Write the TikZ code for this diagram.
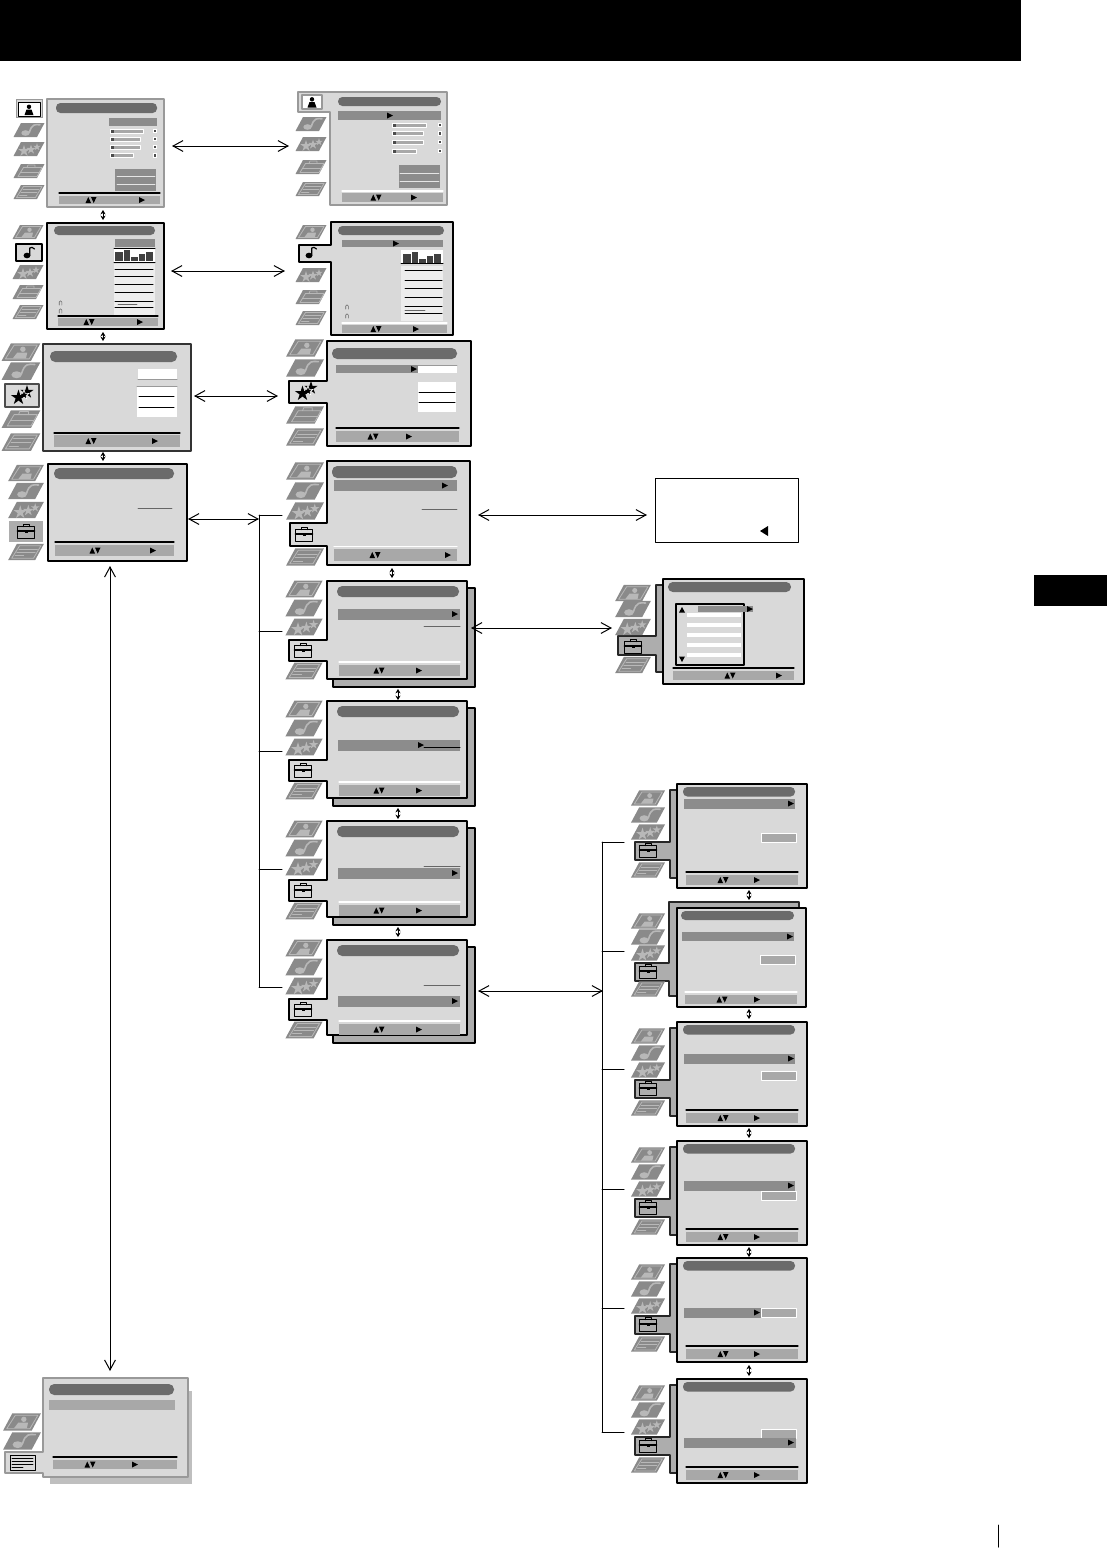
\documentclass[tikz,border=0pt]{standalone}
\usepackage{amssymb}
\usetikzlibrary{arrows.meta,fit}

\definecolor{panelgray}{gray}{.85}
\definecolor{pillgray}{gray}{.42}
\definecolor{headgray}{gray}{.55}
\definecolor{footgray}{gray}{.66}
\definecolor{stripgray}{gray}{.68}
\definecolor{icongray}{gray}{.54}
\definecolor{iconlight}{gray}{.72}

\tikzset{
	screen/.style={draw=black,fill=panelgray,line width=.7pt,inner sep=0pt,outer sep=0pt},
	softscreen/.style={screen,draw=black!40},
	darkscreen/.style={screen,draw=black!80},
	screenname/.style={inner sep=0pt,outer sep=0pt},
	shadowbox/.style={draw=black,fill=stripgray,line width=.6pt},
	stripshape/.style={draw=black!85,fill=stripgray,line width=.6pt},
	iconline/.style={draw=iconlight,line width=.4pt},
	link/.style={<->,line width=.5pt},
	updown/.style={{Stealth[length=2.2pt,width=2.6pt]}-{Stealth[length=2.2pt,width=2.6pt]},line width=.5pt},
	branch/.style={line width=.5pt}
}

% inactive icons, drawn round (0,0)
\newcommand{\iconperson}{
	\draw[iconline] (-5.5,-5.5) -- (13,-5.5) -- (6.5,5.5) -- (-12.5,5.5) -- cycle;
	\fill[iconlight] (1.5,-2.2) circle (2.2);
	\fill[iconlight] (-6.5,5) -- (-3,.5) -- (5,.5) -- (4,5) -- cycle;}
\newcommand{\iconnote}{
	\fill[iconlight] (-3.5,3) circle [x radius=4.2,y radius=2.8];
	\draw[iconlight,line width=.8pt] (.3,2.5) .. controls (3,-6.5) and (6,-5.5) .. (11,-5.2);}
\newcommand{\iconstars}{
	\fill[iconlight,shift={(-5,2)},scale=6] \starpath;
	\fill[iconlight,shift={(2,.5)},scale=5] \starpath;
	\fill[iconlight,shift={(8,-2)},scale=4] \starpath;}
\newcommand{\iconcase}{
	\draw[iconline] (-5.5,-3.5) -- (13,-3.5) -- (8,5.5) -- (-11,5.5) -- cycle;
	\draw[iconline] (-8,1) -- (10.5,1);
	\draw[iconline] (-2,-3.5) -- (-1,-6) -- (6,-6) -- (6,-3.5);}
\newcommand{\icontext}{
	\draw[iconline] (-5.5,-5.5) -- (13,-5.5) -- (6.5,5.5) -- (-12.5,5.5) -- cycle;
	\draw[iconline] (-6,-2.5) -- (10,-2.5);
	\draw[iconline] (-8,.5) -- (8,.5);
	\draw[iconline] (-9.5,3.2) -- (-2,3.2);}
\newcommand{\starpath}{(0,-1) -- (.22,-.3) -- (.95,-.31) -- (.36,.12) -- (.59,.81) -- (0,.38) -- (-.59,.81) -- (-.36,.12) -- (-.95,-.31) -- (-.22,-.3) -- cycle}
\newcommand{\iconoff}[4]{
	\begin{scope}[shift={(#2,#3)},scale=#4]
		\fill[icongray] (-8,-7) -- (15.5,-7) -- (8,7) -- (-15.5,7) -- cycle;
		\csname icon#1\endcsname
	\end{scope}}

% active icons
\newcommand{\activeperson}[2]{
	\begin{scope}[shift={(#1,#2)}]
		\fill (0,-3.2) circle (2.2);
		\fill (-4.5,5) -- (-2.5,-.5) -- (2.5,-.5) -- (4.5,5) -- cycle;
	\end{scope}}
\newcommand{\activenote}[2]{
	\begin{scope}[shift={(#1,#2)}]
		\fill (-3,3.5) circle [x radius=3.5,y radius=2.8];
		\draw[line width=.6pt] (-.2,3) -- (-.2,-4) .. controls (1,-5.5) and (3,-4.5) .. (4.5,-3);
	\end{scope}}
\newcommand{\activestars}[2]{
	\begin{scope}[shift={(#1,#2)}]
		\fill[shift={(5,-4)},scale=7] \starpath;
		\draw[white,line width=.3pt,fill=black,shift={(2,-1)},scale=5.5] \starpath;
		\fill[shift={(-3.5,1.5)},scale=8] \starpath;
	\end{scope}}
\newcommand{\activecase}[2]{
	\begin{scope}[shift={(#1,#2)}]
		\draw[line width=.5pt] (-8.5,-4.5) rectangle (8.5,7);
		\draw[line width=.5pt] (-3,-4.5) -- (-3,-7) -- (3,-7) -- (3,-4.5);
		\draw[line width=.9pt] (-8.5,0) -- (8.5,0);
		\fill (-1.5,-1.5) rectangle (1.5,1.5);
	\end{scope}}

% small marks
\newcommand{\markupdown}[2]{
	\fill (#1-5.5,#2+3) -- (#1-2.7,#2-3) -- (#1,#2+3) -- cycle;
	\fill (#1,#2-3) -- (#1+5.5,#2-3) -- (#1+2.7,#2+3) -- cycle;}
\newcommand{\markgo}[2]{
	\fill (#1-3,#2-3) -- (#1+3,#2) -- (#1-3,#2+3) -- cycle;}

% parts of a screen
\newcommand{\panel}[6][screen]{\node[#1,fit={(#3,#4) (#5,#6)}] (#2) {};}
\newcommand{\tabpanel}[9][screen]{
	\draw[#1] (#3,#4) -- (#5,#4) -- (#5,#6) -- (#3,#6) -- (#3,#9) -- (#7,#9) -- (#7,#8) -- (#3,#8) -- cycle;
	\node[screenname,fit={(#3,#4) (#5,#6)}] (#2) {};}
\newcommand{\pill}[5][2.2pt]{\fill[pillgray,rounded corners=#1] (#2,#3) rectangle (#4,#5);}
\newcommand{\headbar}[4]{\fill[headgray] (#1,#2) rectangle (#3,#4);}
\newcommand{\footer}[8]{
	\draw[#1,line width=.6pt] (#2,#4) -- (#3,#4);
	\fill[footgray] (#2,#5) rectangle (#3,#6);
	\pgfmathsetmacro\midfoot{(#5+#6)/2}
	\markupdown{#7}{\midfoot}
	\markgo{#8}{\midfoot}}
\newcommand{\sliderrow}[4]{
	\draw[white,fill=footgray,line width=.4pt] (#1,#3-2) rectangle (#2,#3+2);
	\fill[black!70] (#1+.5,#3-1.5) rectangle (#1+3.5,#3+1.5);
	\fill[white] (#4-2,#3-2.2) rectangle (#4+2,#3+2.2);
	\fill[black!70] (#4-1.2,#3-1.2) rectangle (#4+1.2,#3+1.2);}
\newcommand{\eqbars}[2]{
	\begin{scope}[shift={(#1,#2)}]
		\foreach \xa/\xb/\ytop in {115/123/252,124/130/250,131/138/257,139/145/254,146/153/252}
			\fill[black!75] (\xa,\ytop) rectangle (\xb,261);
	\end{scope}}
\newcommand{\phones}[2]{
	\draw[black!60,line width=.3pt] (#1-1.3,#2+2) -- (#1-1.3,#2-1) .. controls (#1-1,#2-2.5) and (#1+1,#2-2.5) .. (#1+1.3,#2-1) -- (#1+1.3,#2+2);}

\begin{document}
\begin{tikzpicture}[line cap=round,line join=round,>={Straight Barb[length=5pt,width=5.4pt]},x=0.5pt,y=-0.5pt]
	\useasboundingbox (0,0) rectangle (1107,1559);
	\fill[black] (0,0) rectangle (1021,61);
	\fill[black] (1034,575) rectangle (1107,606);
	\draw[line width=.5pt] (998,1525) -- (998,1547);

	% picture screens
	\foreach \k/\y in {note/130,stars/149,case/171,text/192}{\iconoff{\k}{29}{\y}{1}}
	\fill[black!40] (16,99) rectangle (43,118);
	\fill[panelgray] (17,100) rectangle (42,117);
	\draw[fill=white,line width=.5pt] (18.5,102) rectangle (40,116);
	\activeperson{29}{110}
	\panel[softscreen]{picLeft}{47}{99}{164}{207}
	\pill{56}{103}{157}{113}
	\headbar{109}{118}{157}{126}
	\foreach \xe/\y in {143/131,140/139,140/147,133/155.5}{\sliderrow{110}{\xe}{\y}{155}}
	\headbar{115}{169}{156}{191}
	\foreach \y in {176.5,184}{\draw[white!80!gray,line width=.4pt] (117,\y) -- (155,\y);}
	\footer{black}{59}{160}{193}{196}{204}{91}{142}

	\tabpanel[softscreen]{picRight}{330}{92}{447}{205}{298}{92}{112}
	\foreach \k/\y in {note/124,stars/144,case/167,text/189}{\iconoff{\k}{311}{\y}{1}}
	\draw[black!40,fill=white,line width=.6pt] (302,95) rectangle (322,109);
	\activeperson{312}{102.5}
	\pill{338}{97}{441}{106}
	\headbar{338}{111}{441}{120}
	\markgo{390}{115.5}
	\foreach \xe/\y in {426/125,423/133.5,423/142,416/151}{\sliderrow{392}{\xe}{\y}{440}}
	\headbar{399}{165}{440}{188}
	\foreach \y in {173,181}{\draw[white!80!gray,line width=.4pt] (400,\y) -- (439,\y);}
	\footer{white}{342}{443}{191}{193}{202}{376}{414}

	% sound screens
	\foreach \k/\y in {person/232,stars/272,case/292,text/312}{\iconoff{\k}{28}{\y}{1}}
	\draw[fill=panelgray,line width=.7pt] (16,244) rectangle (42,261);
	\activenote{30}{252}
	\panel{soundLeft}{47}{223}{164}{329}
	\pill{54}{226}{155}{235}
	\headbar{115}{239}{155}{247}
	\fill[white] (114,248) rectangle (155,262);
	\draw[line width=.5pt] (114,248) -- (155,248) (114,262) -- (155,262);
	\eqbars{0}{0}
	\fill[white!93!black] (114,264) rectangle (155,315);
	\foreach \y in {269,276.5,284,292,301,307}{\draw[line width=.5pt] (115,\y) -- (153,\y);}
	\draw[black!60,line width=.3pt] (118,304) -- (137,304);
	\phones{60.5}{303}
	\phones{60.5}{311}
	\footer{black}{58}{158}{316}{318}{326}{89}{140}

	\tabpanel{soundRight}{331}{222}{453}{335}{299}{245}{262}
	\foreach \k/\y in {person/232,stars/275,case/297,text/318}{\iconoff{\k}{311}{\y}{1}}
	\activenote{312}{252}
	\pill{338}{226}{444}{235}
	\headbar{342}{240}{443}{247}
	\markgo{396}{243.5}
	\fill[white] (401,250) rectangle (443,263);
	\draw[line width=.5pt] (401,263.5) -- (443,263.5);
	\eqbars{288}{2}
	\fill[white!93!black] (401,266) rectangle (443,321);
	\foreach \y in {270,280,288,297,306,313}{\draw[line width=.5pt] (405,\y) -- (442,\y);}
	\draw[black!60,line width=.3pt] (405,310) -- (425,310);
	\phones{347}{307}
	\phones{347}{316}
	\footer{white}{342}{447}{323}{325}{333}{376}{416}

	% star screens
	\foreach \k/\y in {person/352,note/371,case/419,text/442}{\iconoff{\k}{21}{\y}{1.25}}
	\draw[black!70,fill=panelgray,line width=.7pt] (5,384) rectangle (39,407);
	\activestars{22}{396}
	\panel[darkscreen]{starsLeft}{43}{344}{191}{451}
	\pill[2.6pt]{50}{351}{177}{362}
	\fill[white] (138,369) rectangle (177,379);
	\draw[black!40,line width=.5pt] (138,379) -- (177,379);
	\fill[white] (137,386) rectangle (177,417);
	\draw[black!40,line width=.5pt] (137,386) -- (177,386);
	\foreach \y in {396,407}{\draw[line width=.5pt] (139,\y) -- (174,\y);}
	\footer{black}{54}{180}{433}{435}{447}{91}{155}

	\tabpanel{starsRight}{327}{341}{471}{446}{289}{381}{403}
	\foreach \k/\y in {person/348,note/368,case/415,text/437}{\iconoff{\k}{305}{\y}{1.22}}
	\activestars{306}{392}
	\pill[2.6pt]{332}{348}{457}{359}
	\headbar{336}{365}{418}{373}
	\markgo{414}{369}
	\fill[white] (418,365) rectangle (457,373);
	\draw[black!40,line width=.4pt] (418,365) -- (457,365);
	\fill[white] (418,382) rectangle (456,412);
	\foreach \y in {392,402}{\draw[line width=.5pt] (419,\y) -- (455,\y);}
	\footer{black}{336}{459}{428}{431}{442}{373}{409}

	% tool screens
	\foreach \k/\y in {person/473,note/491,stars/510,text/552}{\iconoff{\k}{26}{\y}{1.15}}
	\fill[stripgray] (9,521) rectangle (43,542);
	\activecase{26}{531}
	\panel{toolsLeft}{48}{464}{187}{561}
	\pill[2.6pt]{54}{468}{174}{479}
	\draw[black!60,line width=.4pt] (138,508) -- (172,508);
	\footer{black}{55}{174}{542}{545}{556}{95}{153}

	\tabpanel{toolsRight}{327}{461}{470}{565}{290}{523}{546}
	\foreach \k/\y in {person/471,note/491,stars/511,text/557}{\iconoff{\k}{305}{\y}{1.22}}
	\activecase{304}{534}
	\pill[2.6pt]{332}{466}{457}{478}
	\headbar{334}{480}{457}{491}
	\markgo{445}{485.5}
	\draw[black!60,line width=.4pt] (422,509) -- (457,509);
	\footer{white}{334}{457}{546.5}{549}{561}{375}{448}

	% the four screens with one behind
	\foreach \nm/\ty/\by/\hy/\ax/\ly/\lc in {subA/581/679/609/455/626.5/black!60,subB/701/798/740/421/747/black,subC/821/917/868/455/866/black!60,subD/940/1035/996/455/985/black!60}{
		\draw[shadowbox] (333,\ty+7) rectangle (475,\by+8);
		\tabpanel{\nm}{327}{\ty}{467}{\by}{289}{\ty+59}{\ty+80}
		\foreach \k/\y in {person/8,note/27,stars/46,text/90}{\iconoff{\k}{304}{\ty+\y}{1.2}}
		\activecase{303}{\ty+69}
		\pill[2.6pt]{337}{\ty+5}{459}{\ty+16}
		\headbar{338}{\hy}{460}{\hy+11}
		\markgo{\ax}{\hy+5}
		\draw[\lc,line width=.5pt] (424,\ly) -- (460,\ly);
		\footer{white}{339}{460}{\ty+81}{\ty+84}{\ty+95}{379}{419}
	}

	% info box
	\node[draw=black,fill=white,line width=.5pt,fit={(655,478) (798,542)},inner sep=0pt,outer sep=0pt] (infoBox) {};
	\fill (768,526) -- (760,531) -- (768,536) -- cycle;

	% list screen
	\draw[stripshape] (656,585) -- (656,636) -- (618,636) -- (618,655) -- (656,655) -- (656,672) -- (664,672) -- (664,585) -- cycle;
	\foreach \k/\y in {person/593,note/609,stars/627,text/665}{\iconoff{\k}{633}{\y}{1.15}}
	\activecase{633}{646}
	\panel{listScreen}{663}{579}{804}{684}
	\pill[2.4pt]{668}{582}{791}{592}
	\draw[black,line width=.6pt] (676,604) rectangle (744,665);
	\foreach \y in {613,623,633,643,653}{\fill[white] (687,\y) rectangle (741,\y+4);}
	\headbar{698}{606}{753}{612}
	\markgo{750}{609}
	\fill (682,607) -- (685,612.5) -- (679,612.5) -- cycle;
	\fill (682,662) -- (685,656.5) -- (679,656.5) -- cycle;
	\footer{black}{673}{794}{668}{671}{680}{730}{779}

	% six screens of the last column
	\foreach \nm/\ty/\hy/\hx/\ax/\ky in {optA/784/799/795/791/833,optC/1022/1054/795/791/1071,optD/1141/1181/795/791/1191,optE/1258/1308/761/757/1308,optF/1379/1438/796/791/1429}{
		\draw[stripshape] (670,\ty+6) -- (670,\ty+58) -- (635,\ty+58) -- (635,\ty+76) -- (670,\ty+76) -- (670,\ty+94) -- (678,\ty+94) -- (678,\ty+6) -- cycle;
		\foreach \k/\y in {person/14,note/31,stars/48,text/86}{\iconoff{\k}{648}{\ty+\y}{1.1}}
		\activecase{648}{\ty+66}
		\panel{\nm}{677}{\ty}{807}{\ty+104}
		\pill{683}{\ty+3}{795}{\ty+12.5}
		\draw[white,fill=footgray,line width=.5pt] (761,\ky) rectangle (796,\ky+9.5);
		\headbar{684}{\hy}{\hx}{\hy+9.5}
		\markgo{\ax}{\hy+4.5}
		\footer{black}{686}{798}{\ty+88}{\ty+91}{\ty+101}{723}{757}
	}
	\draw[stripshape] (669,902) -- (669,963) -- (635,963) -- (635,981) -- (669,981) -- (669,996) -- (678,996) -- (678,908) -- (799,908) -- (799,902) -- cycle;
	\foreach \k/\y in {person/921,note/937,stars/953,text/989}{\iconoff{\k}{648}{\y}{1.1}}
	\activecase{648}{971}
	\panel{optB}{677}{908}{806}{1007}
	\pill{681}{911}{794}{920}
	\headbar{682}{932}{794}{941}
	\markgo{790}{936.5}
	\draw[white,fill=footgray,line width=.5pt] (760,955) rectangle (795,964);
	\footer{white}{685}{797}{992}{995}{1004}{722}{757}

	% text screen
	\fill[black!25] (50,1391) rectangle (192,1484);
	\foreach \k/\y in {person/1422,note/1441}{\iconoff{\k}{22}{\y}{1.22}}
	\tabpanel[softscreen]{textScreen}{43}{1378}{188}{1477}{5}{1452}{1473}
	\draw[fill=panelgray,line width=.5pt] (10,1455) rectangle (35,1470);
	\foreach \y in {1458.5,1461.5,1464.5}{\draw[line width=.4pt] (12,\y) -- (33,\y);}
	\draw[line width=.4pt] (12,1467.3) -- (23,1467.3);
	\pill[2.6pt]{49}{1384}{174}{1395}
	\fill[footgray] (49,1400) rectangle (175,1410);
	\footer{black}{53}{177}{1457}{1460}{1469}{90}{135}

	% connectors
	\coordinate (picEnd) at (289,146);
	\coordinate (soundEnd) at (285,271);
	\coordinate (starsEnd) at (278,396);
	\coordinate (toolsEnd) at (259,519);
	\coordinate (listEnd) at (612,628);
	\coordinate (optEnd) at (603,991);
	\coordinate (treeTop) at (259,515);
	\coordinate (treeBottom) at (259,987);
	\coordinate (optTop) at (602,842);
	\coordinate (optBottom) at (602,1432);
	\draw[link,shorten <=4pt] (picLeft.east |- picEnd) -- (picEnd);
	\draw[link,shorten <=3.5pt] (soundLeft.east |- soundEnd) -- (soundEnd);
	\draw[link,shorten <=1.5pt] (starsLeft.east |- starsEnd) -- (starsEnd);
	\draw[link,shorten <=.5pt] (toolsLeft.east |- toolsEnd) -- (toolsEnd);
	\draw[link,shorten <=4pt,shorten >=4pt] (toolsRight.east |- 0,515) -- (infoBox.west |- 0,515);
	\draw[link,shorten <=2pt] (subA.east |- listEnd) -- (listEnd);
	\draw[link,shorten <=5.5pt] (subD.east |- optEnd) -- (optEnd);
	\draw[branch] (treeTop) -- (treeBottom);
	\foreach \y in {515,631,751,869,987}{\draw[branch] (treeTop |- 0,\y) -- ++(23,0);}
	\draw[branch] (optTop) -- (optBottom);
	\foreach \y in {842,951,1069,1189,1308,1432}{\draw[branch] (optTop |- 0,\y) -- ++(22,0);}
	\foreach \a/\b/\x/\sa/\sb in {picLeft/soundLeft/103/1.5/1.5,soundLeft/starsLeft/103/1.5/1.5,starsLeft/toolsLeft/103/.5/1.5,toolsRight/subA/392/1.5/1.5,subA/subB/398/5/.5,subB/subC/398/5/1,subC/subD/398/5/1.5,optA/optB/749/1/4,optB/optC/749/1/1.5,optC/optD/749/1/1.5,optD/optE/749/1/.5,optE/optF/749/1.5/1.5}{
		\draw[updown,shorten <=\sa pt,shorten >=\sb pt] (\a.south -| \x,0) -- (\b.north -| \x,0);
	}
	\draw[link,shorten <=2.5pt,shorten >=3.5pt] (toolsLeft.south -| 110,0) -- (textScreen.north -| 110,0);
\end{tikzpicture}
\end{document}
